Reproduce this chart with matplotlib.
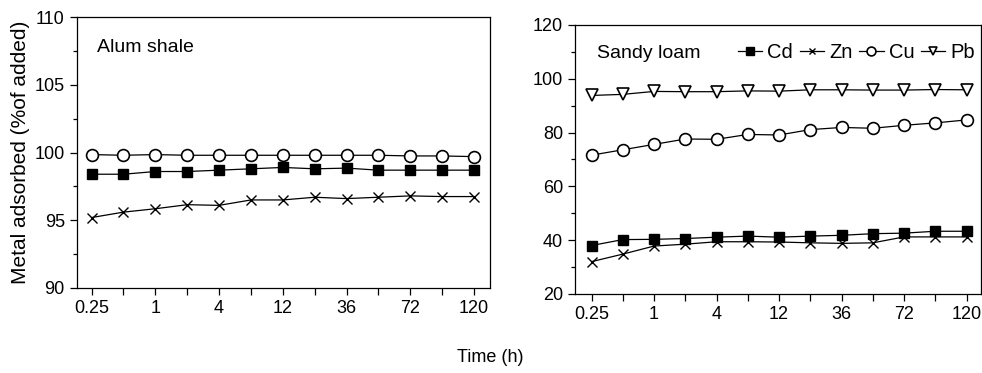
import matplotlib
matplotlib.use("Agg")
from matplotlib import pyplot as plt
from matplotlib.ticker import MultipleLocator

plt.rcParams['font.family'] = ['Liberation Sans', 'DejaVu Sans']

# 时间 (h)，13个取样点
time_labels = ["0.25", "0.5", "1", "2", "4", "8", "12", "24", "36", "48", "72", "96", "120"]
shown_labels = ["0.25", "", "1", "", "4", "", "12", "", "36", "", "72", "", "120"]

# Alum shale
alum_cd = [98.4, 98.4, 98.6, 98.6, 98.7, 98.8, 98.9, 98.8, 98.85, 98.7, 98.7, 98.7, 98.7]
alum_zn = [95.2, 95.6, 95.85, 96.15, 96.1, 96.5, 96.5, 96.7, 96.6, 96.7, 96.8, 96.75, 96.75]
alum_cu = [99.85, 99.8, 99.85, 99.8, 99.8, 99.8, 99.8, 99.8, 99.8, 99.8, 99.75, 99.75, 99.7]

# Sandy loam
sandy_cd = [38.0, 40.2, 40.3, 40.6, 41.1, 41.5, 41.1, 41.5, 41.8, 42.4, 42.6, 43.3, 43.3]
sandy_zn = [32.0, 34.8, 37.8, 38.5, 39.4, 39.4, 39.3, 39.0, 38.8, 39.0, 41.2, 41.2, 41.2]
sandy_cu = [71.6, 73.6, 75.6, 77.6, 77.5, 79.3, 79.1, 81.1, 81.9, 81.6, 82.7, 83.6, 84.7]
sandy_pb = [93.8, 94.2, 95.3, 95.2, 95.2, 95.5, 95.4, 95.9, 95.9, 95.8, 95.8, 96.0, 95.9]

x = range(len(time_labels))

fig = plt.figure(figsize=(9.82, 3.73), dpi=100)
ax1 = fig.add_axes([0.078, 0.228, 0.421, 0.726])
ax2 = fig.add_axes([0.5855, 0.212, 0.4135, 0.721])

style = dict(color="black", lw=0.9)
cd_m = dict(marker="s", ms=7.5, mfc="black", mec="black")
zn_m = dict(marker="x", ms=6.5, mew=1.0, mec="black")
cu_m = dict(marker="o", ms=8.5, mfc="white", mec="black", mew=1.2)
pb_m = dict(marker="v", ms=8.5, mfc="white", mec="black", mew=1.2)

# 左图
ax1.plot(x, alum_cu, **style, **cu_m)
ax1.plot(x, alum_cd, **style, **cd_m)
ax1.plot(x, alum_zn, **style, **zn_m)
ax1.set_ylim(90, 110)
ax1.set_xlim(-0.47, 12.5)
ax1.yaxis.set_major_locator(MultipleLocator(5))
ax1.yaxis.set_minor_locator(MultipleLocator(2.5))
ax1.text(0.05, 0.92, "Alum shale", transform=ax1.transAxes, fontsize=14, va="top")
ax1.set_ylabel("Metal adsorbed (%of added)", fontsize=15, labelpad=3)

# 右图
l_cd, = ax2.plot(x, sandy_cd, **style, **cd_m, label="Cd")
l_zn, = ax2.plot(x, sandy_zn, **style, **zn_m, label="Zn")
l_cu, = ax2.plot(x, sandy_cu, **style, **cu_m, label="Cu")
l_pb, = ax2.plot(x, sandy_pb, **style, **pb_m, label="Pb")
ax2.set_ylim(20, 120)
ax2.set_xlim(-0.53, 12.46)
ax2.yaxis.set_major_locator(MultipleLocator(20))
ax2.yaxis.set_minor_locator(MultipleLocator(10))
ax2.text(0.055, 0.925, "Sandy loam", transform=ax2.transAxes, fontsize=14, va="top")
ax2.legend(handles=[l_cd, l_zn, l_cu, l_pb], loc="upper right", ncol=4, frameon=False,
           fontsize=14.5, handlelength=1.2, handletextpad=0.25, columnspacing=0.35,
           markerscale=0.75, bbox_to_anchor=(1.02, 0.985), borderaxespad=0.3)

for ax in (ax1, ax2):
    ax.set_xticks(list(x))
    ax.set_xticklabels(shown_labels)
    ax.tick_params(axis="both", which="major", direction="out", length=5, width=0.9, labelsize=13)
    ax.tick_params(axis="y", which="minor", direction="out", length=3, width=0.9)
    for s in ax.spines.values():
        s.set_linewidth(0.9)

fig.text(0.499, 0.03, "Time (h)", ha="center", fontsize=13)

plt.savefig("out.png", dpi=100)
